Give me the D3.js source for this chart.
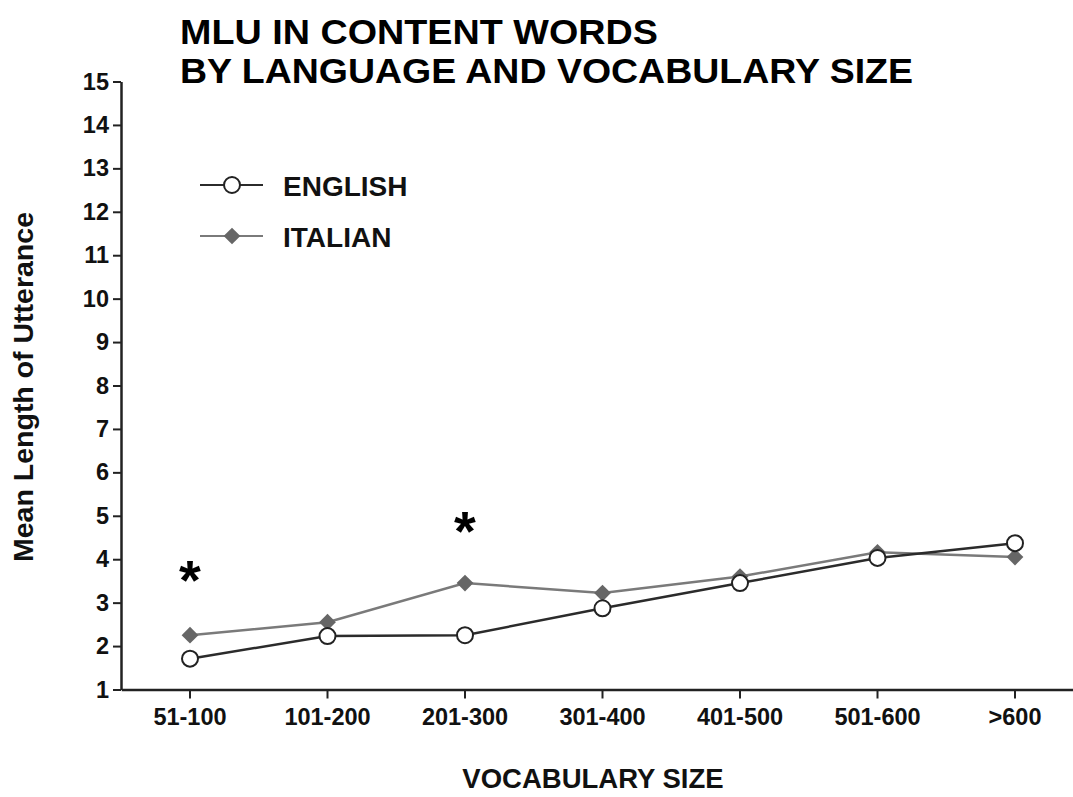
<!DOCTYPE html>
<html><head><meta charset="utf-8">
<script src="https://cdn.jsdelivr.net/npm/d3@7"></script>
<style>
body{margin:0;background:#fff;}
text{font-family:"Liberation Sans",Arial,sans-serif;font-weight:bold;}
</style></head>
<body><svg id="c" width="1073" height="797"></svg>
<script>
const categories = ["51-100","101-200","201-300","301-400","401-500","501-600",">600"];
const english = [1.71, 2.23, 2.25, 2.87, 3.45, 4.03, 4.37];
const italian = [2.25, 2.55, 3.45, 3.22, 3.60, 4.16, 4.05];
const yTicks = [1,2,3,4,5,6,7,8,9,10,11,12,13,14,15];
const asterisks = [{cat:"51-100", y:3.71},{cat:"201-300", y:4.83}];
const titleLines = ["MLU IN CONTENT WORDS","BY LANGUAGE AND VOCABULARY SIZE"];
const titleWidths = [478, 733];

const svg = d3.select("#c");
const x = d3.scaleBand().domain(categories).range([121.25, 1083.75]);
const cx = c => x(c) + x.bandwidth()/2;
const y = d3.scaleLinear().domain([1,15]).range([689.5, 81.5]);

// title
svg.selectAll("text.title").data(titleLines).enter().append("text").attr("class","title")
  .attr("x",180).attr("y",(d,i)=>44+i*38.5).attr("font-size",34.2).attr("fill","#000")
  .attr("textLength",(d,i)=>titleWidths[i]).attr("lengthAdjust","spacingAndGlyphs").text(d=>d);

function styleTicks(g){
  g.select(".domain").attr("stroke","#222").attr("stroke-width",2.5);
  g.selectAll(".tick line").attr("stroke","#222").attr("stroke-width",2);
  g.selectAll(".tick text").attr("font-size",23.5).attr("font-family","Liberation Sans, Arial, sans-serif").attr("font-weight","bold").attr("fill","#111");
}
// y axis
const ya = svg.append("g").attr("transform","translate(121,0)")
  .call(d3.axisLeft(y).tickValues(yTicks).tickSize(8).tickSizeOuter(0).tickPadding(4));
styleTicks(ya);

// x axis
const xa = svg.append("g").attr("transform","translate(0,689.5)")
  .call(d3.axisBottom(x).tickSize(9).tickSizeOuter(0).tickPadding(10));
styleTicks(xa);

// axis titles
svg.append("text").attr("x",593).attr("y",788).attr("text-anchor","middle").attr("font-size",27.5).attr("fill","#111").text("VOCABULARY SIZE");
svg.append("text").attr("transform","translate(33,387) rotate(-90)").attr("text-anchor","middle").attr("font-size",28.5).attr("fill","#111").text("Mean Length of Utterance");

const line = d3.line().x((d,i)=>cx(categories[i])).y(d=>y(d));
const diamond = d3.symbol().type(d3.symbolSquare).size(140);

// italian
svg.append("path").datum(italian).attr("d",line).attr("fill","none").attr("stroke","#7a7a7a").attr("stroke-width",2.5);
svg.selectAll("path.it").data(italian).enter().append("path").attr("class","it")
  .attr("d", diamond)
  .attr("transform",(d,i)=>`translate(${cx(categories[i])},${y(d)}) rotate(45)`)
  .attr("fill","#666");

// english
svg.append("path").datum(english).attr("d",line).attr("fill","none").attr("stroke","#2b2b2b").attr("stroke-width",2.5);
svg.selectAll("circle.en").data(english).enter().append("circle").attr("class","en")
  .attr("cx",(d,i)=>cx(categories[i])).attr("cy",d=>y(d)).attr("r",8)
  .attr("fill","#fff").attr("stroke","#222").attr("stroke-width",2);

// asterisks
svg.selectAll("text.ast").data(asterisks).enter().append("text")
  .attr("x",d=>cx(d.cat)).attr("y",d=>y(d.y)+27).attr("text-anchor","middle").attr("font-size",56).attr("fill","#000").text("*");

// legend
const lg = svg.append("g");
lg.append("line").attr("x1",200).attr("x2",263).attr("y1",185).attr("y2",185).attr("stroke","#2b2b2b").attr("stroke-width",2);
lg.append("circle").attr("cx",232).attr("cy",185).attr("r",8).attr("fill","#fff").attr("stroke","#222").attr("stroke-width",2);
lg.append("text").attr("x",283).attr("y",196).attr("font-size",28).attr("fill","#111").text("ENGLISH");
lg.append("line").attr("x1",200).attr("x2",263).attr("y1",236).attr("y2",236).attr("stroke","#7a7a7a").attr("stroke-width",2);
lg.append("path").attr("d", diamond).attr("transform","translate(232,236) rotate(45)").attr("fill","#666");
lg.append("text").attr("x",283).attr("y",247).attr("font-size",28).attr("fill","#111").text("ITALIAN");
</script></body></html>
